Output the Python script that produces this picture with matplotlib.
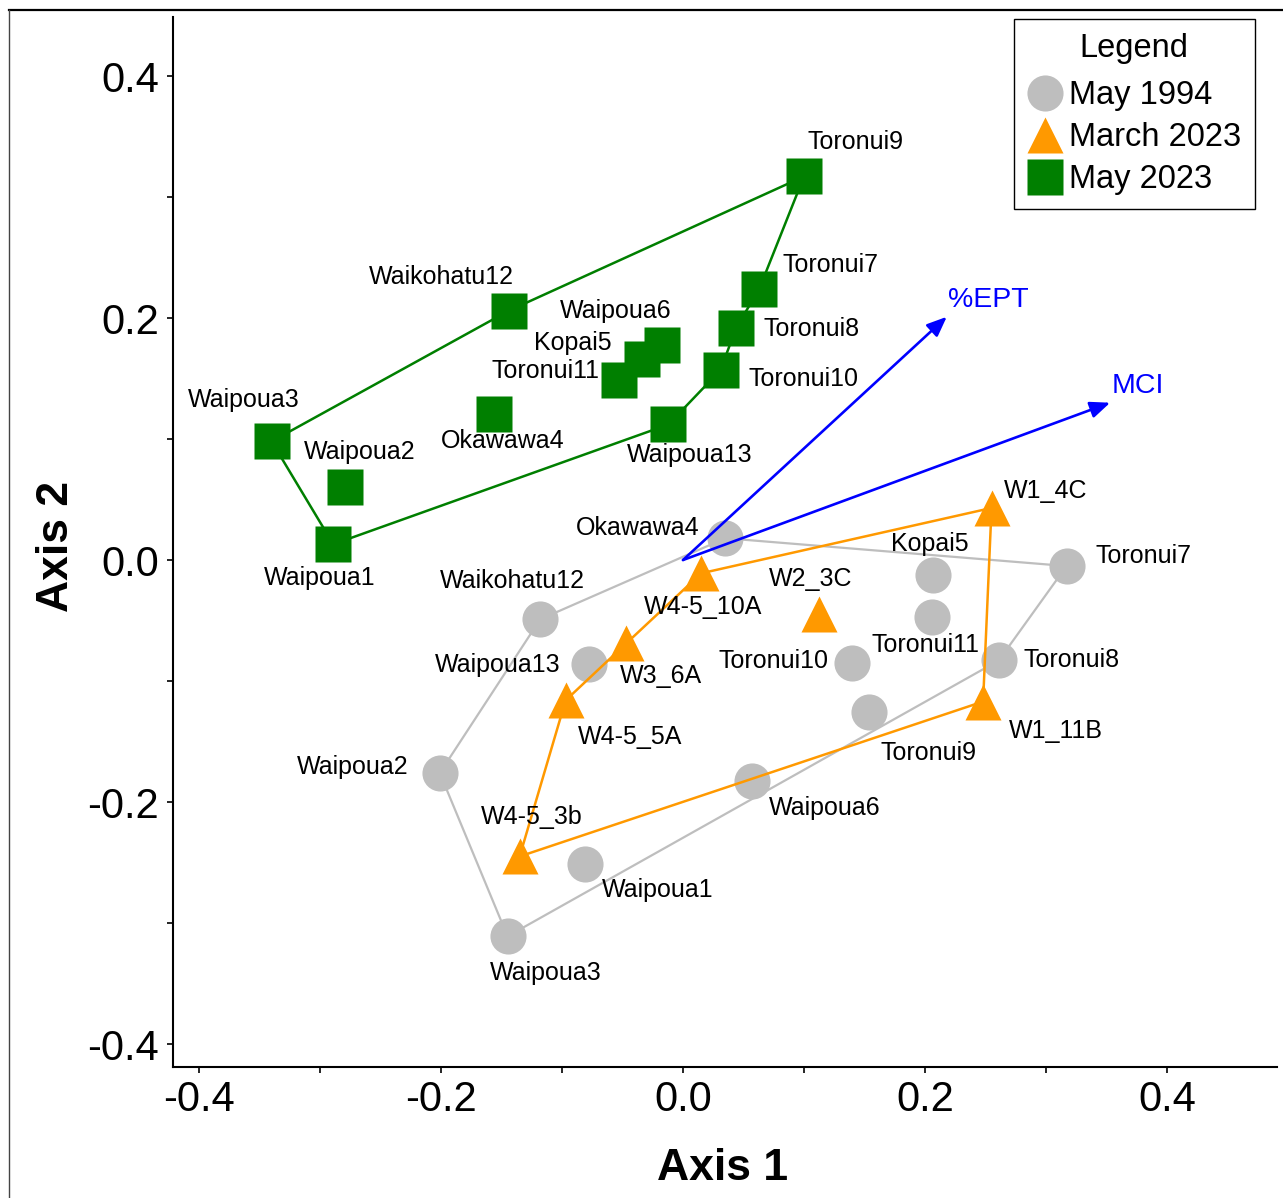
import matplotlib
matplotlib.use("Agg")
import matplotlib.pyplot as plt
from matplotlib.lines import Line2D
from matplotlib.ticker import MultipleLocator, FormatStrFormatter

plt.rcParams['font.family'] = ['Liberation Sans', 'DejaVu Sans']
plt.rcParams['axes.unicode_minus'] = False

# ---------------- data ----------------
may94_sites = ["Okawawa4", "Waikohatu12", "Waipoua13", "Kopai5", "Toronui11", "Toronui7",
               "Toronui10", "Toronui8", "Toronui9", "Waipoua2", "Waipoua1", "Waipoua3", "Waipoua6"]
may94_x = [0.035, -0.118, -0.078, 0.207, 0.206, 0.317, 0.140, 0.261, 0.154, -0.201, -0.081, -0.145, 0.057]
may94_y = [0.018, -0.049, -0.086, -0.012, -0.047, -0.005, -0.085, -0.083, -0.126, -0.176, -0.251, -0.311, -0.183]
may94_hull = ["Okawawa4", "Toronui7", "Toronui8", "Waipoua3", "Waipoua2", "Waikohatu12"]

mar23_sites = ["W1_4C", "W1_11B", "W2_3C", "W4-5_10A", "W3_6A", "W4-5_5A", "W4-5_3b"]
mar23_x = [0.255, 0.248, 0.112, 0.015, -0.047, -0.097, -0.135]
mar23_y = [0.043, -0.117, -0.045, -0.011, -0.069, -0.116, -0.245]
mar23_hull = ["W4-5_3b", "W4-5_5A", "W3_6A", "W4-5_10A", "W1_4C", "W1_11B"]

may23_sites = ["Toronui9", "Toronui7", "Toronui8", "Toronui10", "Waipoua13", "Waipoua6", "Kopai5",
               "Toronui11", "Waikohatu12", "Okawawa4", "Waipoua3", "Waipoua2", "Waipoua1"]
may23_x = [0.100, 0.063, 0.044, 0.031, -0.012, -0.017, -0.034, -0.053, -0.144, -0.156, -0.340, -0.279, -0.289]
may23_y = [0.317, 0.224, 0.192, 0.157, 0.112, 0.178, 0.166, 0.149, 0.206, 0.121, 0.098, 0.060, 0.013]
may23_hull = ["Waipoua3", "Waikohatu12", "Toronui9", "Toronui7", "Toronui8", "Toronui10", "Waipoua13", "Waipoua1"]

vectors = ["%EPT", "MCI"]
vec_x = [0.218, 0.353]
vec_y = [0.201, 0.130]

legend_labels = ["May 1994", "March 2023", "May 2023"]

# label offsets (pixels, dx right, dy up)
may94_off = [(-88, 10), (-28, 38), (-91, -1), (-4, 31), (-7, -28), (77, 10), (-79, 2),
             (73, 0), (59, -41), (-87, 6), (73, -26), (38, -37), (73, -27)]
mar23_off = [(54, 17), (73, -29), (-8, 35), (2, -34), (35, -33), (64, -37), (12, 39)]
may23_off = [(51, 34), (71, 24), (75, -1), (83, -9), (21, -31), (-47, 34), (-69, 16),
             (-73, 9), (-67, 34), (8, -27), (-28, 41), (14, 35), (-14, -34)]

# ---------------- style ----------------
W, H = 1283, 1198
GRAY = "#BEBEBE"
ORANGE = "#FF9900"
GREEN = "#007F00"
BLUE = "#0000FF"
MS = 26
LABEL_FS = 18

fig = plt.figure(figsize=(W / 100, H / 100), dpi=100)
ax = fig.add_axes([173 / W, 1 - 1067 / H, (1277 - 173) / W, (1067 - 17) / H])

x0, scale = 683, 1210.0
y0 = 560
ax.set_xlim((173 - x0) / scale, (1277 - x0) / scale)
ax.set_ylim((y0 - 1067) / scale, (y0 - 17) / scale)


def hull_xy(sites, xs, ys, order):
    idx = [sites.index(s) for s in order] + [sites.index(order[0])]
    return [xs[i] for i in idx], [ys[i] for i in idx]


# May 1994
hx, hy = hull_xy(may94_sites, may94_x, may94_y, may94_hull)
ax.plot(hx, hy, color=GRAY, lw=1.6, zorder=1)
ax.plot(may94_x, may94_y, 'o', color=GRAY, ms=MS, mec='none', zorder=2)

# March 2023
hx, hy = hull_xy(mar23_sites, mar23_x, mar23_y, mar23_hull)
ax.plot(hx, hy, color=ORANGE, lw=1.8, zorder=3)
ax.plot(mar23_x, mar23_y, '^', color=ORANGE, ms=MS, mec='none', zorder=4)

# May 2023
hx, hy = hull_xy(may23_sites, may23_x, may23_y, may23_hull)
ax.plot(hx, hy, color=GREEN, lw=1.8, zorder=3)
ax.plot(may23_x, may23_y, 's', color=GREEN, ms=MS, mec='none', zorder=4)

# vectors
for name, vx, vy in zip(vectors, vec_x, vec_y):
    ax.annotate("", xy=(vx, vy), xytext=(0, 0),
                arrowprops=dict(arrowstyle='-|>,head_length=0.6,head_width=0.25',
                                color=BLUE, lw=1.9, shrinkA=0, shrinkB=0, mutation_scale=20),
                zorder=5)
    ax.annotate(name, xy=(vx, vy), xytext=(1, 17), textcoords='offset pixels',
                ha='left', va='center', color=BLUE, fontsize=20.5, zorder=6)

# site labels
for sites, xs, ys, offs in [(may94_sites, may94_x, may94_y, may94_off),
                            (mar23_sites, mar23_x, mar23_y, mar23_off),
                            (may23_sites, may23_x, may23_y, may23_off)]:
    for s, x, y, (dx, dy) in zip(sites, xs, ys, offs):
        ax.annotate(s, xy=(x, y), xytext=(dx, dy), textcoords='offset pixels',
                    ha='center', va='center', fontsize=LABEL_FS, zorder=7)

# axes styling
for side in ['top', 'right']:
    ax.spines[side].set_visible(False)
for side in ['left', 'bottom']:
    ax.spines[side].set_linewidth(1.5)
ax.xaxis.set_major_locator(MultipleLocator(0.2))
ax.xaxis.set_minor_locator(MultipleLocator(0.1))
ax.yaxis.set_major_locator(MultipleLocator(0.2))
ax.yaxis.set_minor_locator(MultipleLocator(0.1))
ax.xaxis.set_major_formatter(FormatStrFormatter('%.1f'))
ax.yaxis.set_major_formatter(FormatStrFormatter('%.1f'))
ax.tick_params(which='both', direction='out', length=4.5, width=1.2, labelsize=30)
ax.tick_params(axis='y', which='major', pad=5.5)
ax.tick_params(axis='x', which='major', pad=5)

fig.text(723 / W, 1 - 1180 / H, "Axis 1", ha='center', va='baseline',
         fontsize=32, fontweight='bold')
fig.text(68 / W, 1 - 546 / H, "Axis 2", ha='center', va='baseline', rotation=90,
         rotation_mode='anchor', fontsize=32, fontweight='bold')

# legend
LEG_FS = 23.5
LSP = 0.33
handles = [Line2D([], [], ls='none', marker='o', color=GRAY, ms=MS, mec='none'),
           Line2D([], [], ls='none', marker='^', color=ORANGE, ms=MS, mec='none'),
           Line2D([], [], ls='none', marker='s', color=GREEN, ms=MS, mec='none')]
leg = ax.legend(handles, legend_labels, title="Legend", loc='upper right',
                bbox_to_anchor=(1255 / W, 1 - 19 / H), bbox_transform=fig.transFigure,
                borderaxespad=0, fontsize=LEG_FS, title_fontsize=LEG_FS, frameon=True,
                fancybox=False, edgecolor='black', framealpha=1,
                borderpad=0.42, handlelength=1.1, handletextpad=0.18, labelspacing=LSP)
leg._legend_box.sep = LSP * LEG_FS + 4.3
leg.get_frame().set_linewidth(1.0)
leg.set_zorder(10)

# figure border (partial frame)
fig.add_artist(Line2D([9 / W, 1], [1 - 10 / H, 1 - 10 / H], transform=fig.transFigure,
                      color='black', lw=1.6))
fig.add_artist(Line2D([9 / W, 9 / W], [0, 1 - 10 / H], transform=fig.transFigure,
                      color='#444444', lw=1.0))

fig.savefig("out.png", dpi=100)
